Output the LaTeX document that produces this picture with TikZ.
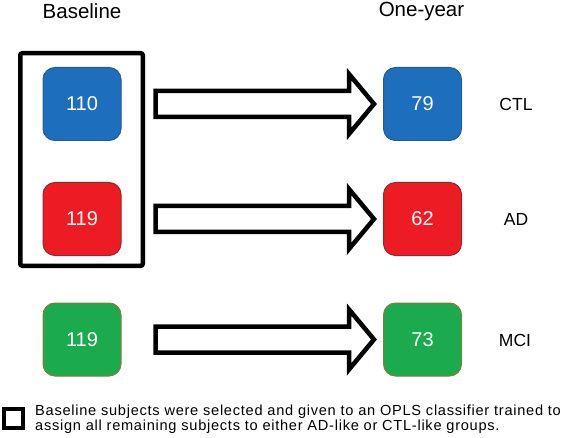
\documentclass[tikz,border=0pt]{standalone}
\usepackage{fontspec}
\setmainfont{Liberation Sans}
\newfontfamily\legendfont[LetterSpace=5]{Liberation Sans}
\usetikzlibrary{calc}
\definecolor{bluefill}{HTML}{1E6EBE}
\definecolor{blueedge}{HTML}{2B5A92}
\definecolor{redfill}{HTML}{ED1C24}
\definecolor{rededge}{HTML}{8E2B2B}
\definecolor{greenfill}{HTML}{1CAA4E}
\definecolor{greenedge}{HTML}{8A7A3C}
\tikzset{
  countbox/.style={rounded corners=12pt, minimum width=78pt, minimum height=73pt,
    inner sep=0pt, line width=1pt, text=white, font=\fontsize{20}{20}\selectfont},
  bluebox/.style={countbox, fill=bluefill, draw=blueedge},
  redbox/.style={countbox, fill=redfill, draw=rededge},
  greenbox/.style={countbox, fill=greenfill, draw=greenedge},
  header/.style={font=\fontsize{20.5}{20.5}\selectfont, inner sep=0pt},
  grouplabel/.style={font=\fontsize{17.5}{17.5}\selectfont, inner sep=0pt},
  blockarrow/.style={draw=black, fill=white, line width=4.5pt, miter limit=10,
    to path={let \p1=(\tikztostart), \p2=(\tikztotarget) in
      (\x1,\y1+13pt) -- (\x2-25pt,\y1+13pt) -- (\x2-25pt,\y1+30pt) -- (\x2,\y1)
      -- (\x2-25pt,\y1-30pt) -- (\x2-25pt,\y1-13pt) -- (\x1,\y1-13pt) -- cycle}},
  frame/.style={draw=black, line width=4.5pt, rounded corners=2pt},
}
\begin{document}
\begin{tikzpicture}[x=1pt, y=-1pt]
\useasboundingbox (0,0) rectangle (567,438);
\node[header] (hbase) at (82,11) {Baseline};
\node[header] (hone) at (421.5,11) {One-year};

\node[bluebox] (b1) at (82,104) {110};
\node[redbox] (b2) at (82,219) {119};
\node[greenbox] (b3) at (82,339.5) {119};

\node[bluebox] (a1) at (422.5,104) {79};
\node[redbox] (a2) at (422.5,219) {62};
\node[greenbox] (a3) at (422.5,339.5) {73};

\node[grouplabel] (l1) at (516,104) {CTL};
\node[grouplabel] (l2) at (516,219) {AD};
\node[grouplabel] (l3) at (515,340) {MCI};

\draw[frame] (20.25,53.25) rectangle (142.75,265.75);

\path[blockarrow] ([xshift=34pt]b1.east) to ([xshift=-9pt]a1.west);
\path[blockarrow] ([xshift=34pt]b2.east) to ([xshift=-9pt]a2.west);
\path[blockarrow] ([xshift=34pt]b3.east) to ([xshift=-9pt]a3.west);

\draw[line width=4pt] (3.5,408.5) rectangle (22.5,427.5);
\node[anchor=base west, align=left, inner sep=0pt, font=\legendfont\fontsize{14.6}{15}\selectfont] (legend) at (35,430)
  {Baseline subjects were selected and given to an OPLS classifier trained to\\
   assign all remaining subjects to either AD-like or CTL-like groups.};
\end{tikzpicture}
\end{document}
